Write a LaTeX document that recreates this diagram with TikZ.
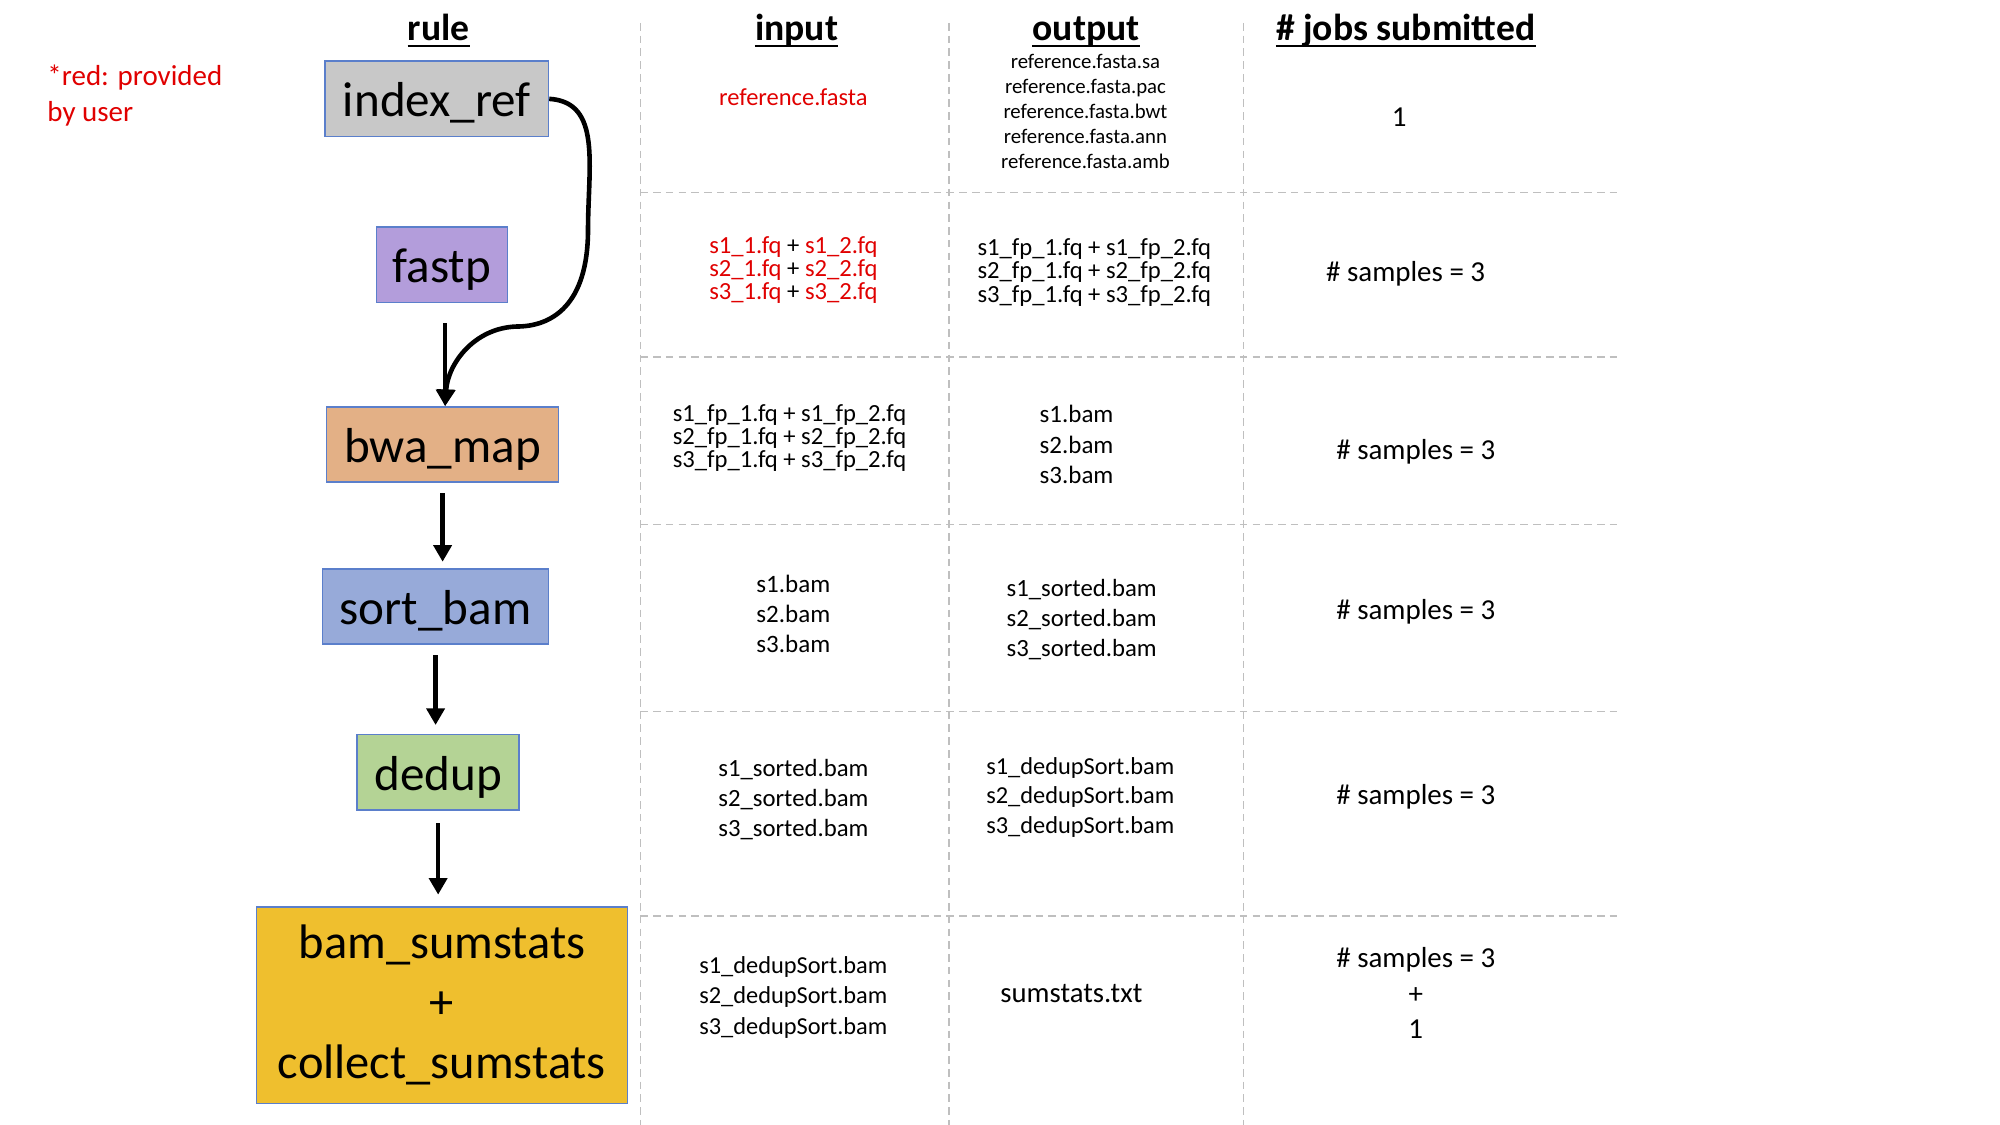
\documentclass[tikz,border=0pt]{standalone}
\usepackage{fontspec}
\setmainfont{Carlito}
\usetikzlibrary{arrows.meta,calc}
\definecolor{boxblue}{HTML}{5B7FCB}
\definecolor{fillgray}{HTML}{C8C8C8}
\definecolor{filllav}{HTML}{B39DDB}
\definecolor{fillorange}{HTML}{E3B086}
\definecolor{fillblue}{HTML}{97AAD9}
\definecolor{fillgreen}{HTML}{B4D395}
\definecolor{fillgold}{HTML}{EFBF2E}
\definecolor{gridgray}{HTML}{BFBFBF}
\definecolor{userred}{HTML}{E00000}
\newcommand\myfs[2]{\fontsize{#1}{#2}\selectfont}
\newcommand\rd[1]{\textcolor{userred}{#1}}
\begin{document}
\begin{tikzpicture}[x=1pt,y=-1pt,
  rulebox/.style={draw=boxblue, line width=1.2pt, minimum height=59pt, inner sep=0pt, font=\myfs{38.5}{47}, text=black, align=center},
  onebox/.style={rulebox, text height=33pt, text depth=5pt},
  flow/.style={line width=3.6pt, -{Triangle[length=13pt,width=14pt]}},
  gridline/.style={draw=gridgray, line width=1.1pt, dash pattern=on 6pt off 4pt},
  head/.style={font=\bfseries\myfs{29.5}{35}, inner sep=0pt, anchor=base},
  uline/.style={line width=2.2pt},
  cell/.style={align=center, inner sep=0pt},
  job/.style={align=center, inner sep=0pt, font=\myfs{22.7}{27.5}}
]
\useasboundingbox (0,0) rectangle (1568,882);

% grid
\draw[gridline] (502,18) -- (502,882);
\draw[gridline] (744,18) -- (744,882);
\draw[gridline] (975,18) -- (975,882);
\foreach \yy in {151,280,411,558,718}
  \draw[gridline] (502,\yy) -- (1270,\yy);

% headers
\node[head] (hrule) at (344,31.5) {rule};
\node[head] (hinput) at (624.5,31.5) {input};
\node[head] (houtput) at (851.5,31.5) {output};
\node[head] (hjobs) at (1102,31.5) {\# jobs submitted};
\foreach \h in {hrule,hinput,houtput,hjobs}
  \draw[uline] ([yshift=-4.5pt]\h.base west) -- ([yshift=-4.5pt]\h.base east);

% note
\node[anchor=west, align=left, inner sep=0pt, font=\myfs{22.7}{28}, text=userred] (note) at (37,75) {*red: provided\\by user};

% rule boxes
\node[onebox, fill=fillgray, minimum width=175pt] (idx) at (342.5,77.5) {index\_ref};
\node[onebox, fill=filllav, minimum width=103pt] (fastp) at (346.5,207.5) {fastp};
\node[onebox, fill=fillorange, minimum width=182pt] (bwa) at (347,348.5) {bwa\_map};
\node[onebox, fill=fillblue, minimum width=177pt] (sort) at (341.5,475.5) {sort\_bam};
\node[onebox, fill=fillgreen, minimum width=127pt] (dedup) at (343.5,605.5) {dedup};
\node[rulebox, fill=fillgold, minimum width=291pt, minimum height=154pt, font=\myfs{38}{47}] (sum) at (346.5,788) {bam\_sumstats\\+\\collect\_sumstats};

% connectors
\draw[flow] (idx.east) .. controls (472,80) and (461,130) .. (461,180)
  .. controls (461,240) and (432,256) .. (405,256)
  .. controls (372,257) and (351,285) .. ([xshift=2pt]bwa.north);
\draw[flow] ([shift={(2.5pt,-16pt)}]fastp.south) -- ([xshift=2pt]bwa.north);
\draw[flow] ([yshift=-8pt]bwa.south) -- ($(bwa.south |- sort.north)+(0,-5)$);
\draw[flow] ([yshift=-8pt]sort.south) -- ($(sort.south |- dedup.north)+(0,-7)$);
\draw[flow] ([yshift=-10pt]dedup.south) -- ($(dedup.south |- sum.north)+(0,-9)$);

% row 1
\node[cell, font=\myfs{19.2}{23}] (in1) at (622,76) {\rd{reference.fasta}};
\node[cell, font=\myfs{16.3}{19.5}] (out1) at (851,87.5) {reference.fasta.sa\\reference.fasta.pac\\reference.fasta.bwt\\reference.fasta.ann\\reference.fasta.amb};
\node[job] (job1) at (1097,92) {1};

% row 2
\node[cell, font=\myfs{19.3}{18}] (in2) at (622,212) {\rd{s1\_1.fq} + \rd{s1\_2.fq}\\\rd{s2\_1.fq} + \rd{s2\_2.fq}\\\rd{s3\_1.fq} + \rd{s3\_2.fq}};
\node[cell, font=\myfs{19.3}{18.5}] (out2) at (858,213.5) {s1\_fp\_1.fq + s1\_fp\_2.fq\\s2\_fp\_1.fq + s2\_fp\_2.fq\\s3\_fp\_1.fq + s3\_fp\_2.fq};
\node[job] (job2) at (1102,215) {\# samples = 3};

% row 3
\node[cell, font=\myfs{19.3}{18}] (in3) at (619,343.5) {s1\_fp\_1.fq + s1\_fp\_2.fq\\s2\_fp\_1.fq + s2\_fp\_2.fq\\s3\_fp\_1.fq + s3\_fp\_2.fq};
\node[cell, font=\myfs{19.6}{24}] (out3) at (844,348.5) {s1.bam\\s2.bam\\s3.bam};
\node[job] (job3) at (1110,354) {\# samples = 3};

% row 4
\node[cell, font=\myfs{19.6}{23.5}] (in4) at (622,481) {s1.bam\\s2.bam\\s3.bam};
\node[cell, font=\myfs{19.4}{23.5}] (out4) at (848,485.5) {s1\_sorted.bam\\s2\_sorted.bam\\s3\_sorted.bam};
\node[job] (job4) at (1110,480) {\# samples = 3};

% row 5
\node[cell, font=\myfs{19.4}{23.5}] (in5) at (622,626.5) {s1\_sorted.bam\\s2\_sorted.bam\\s3\_sorted.bam};
\node[cell, font=\myfs{19.1}{23}] (out5) at (847,625) {s1\_dedupSort.bam\\s2\_dedupSort.bam\\s3\_dedupSort.bam};
\node[job] (job5) at (1110,625) {\# samples = 3};

% row 6
\node[cell, font=\myfs{19.1}{24}] (in6) at (622,782) {s1\_dedupSort.bam\\s2\_dedupSort.bam\\s3\_dedupSort.bam};
\node[cell, font=\myfs{22.5}{27}] (out6) at (840,779) {sumstats.txt};
\node[job] (job6) at (1110,778.5) {\# samples = 3\\+\\1};
\end{tikzpicture}
\end{document}
